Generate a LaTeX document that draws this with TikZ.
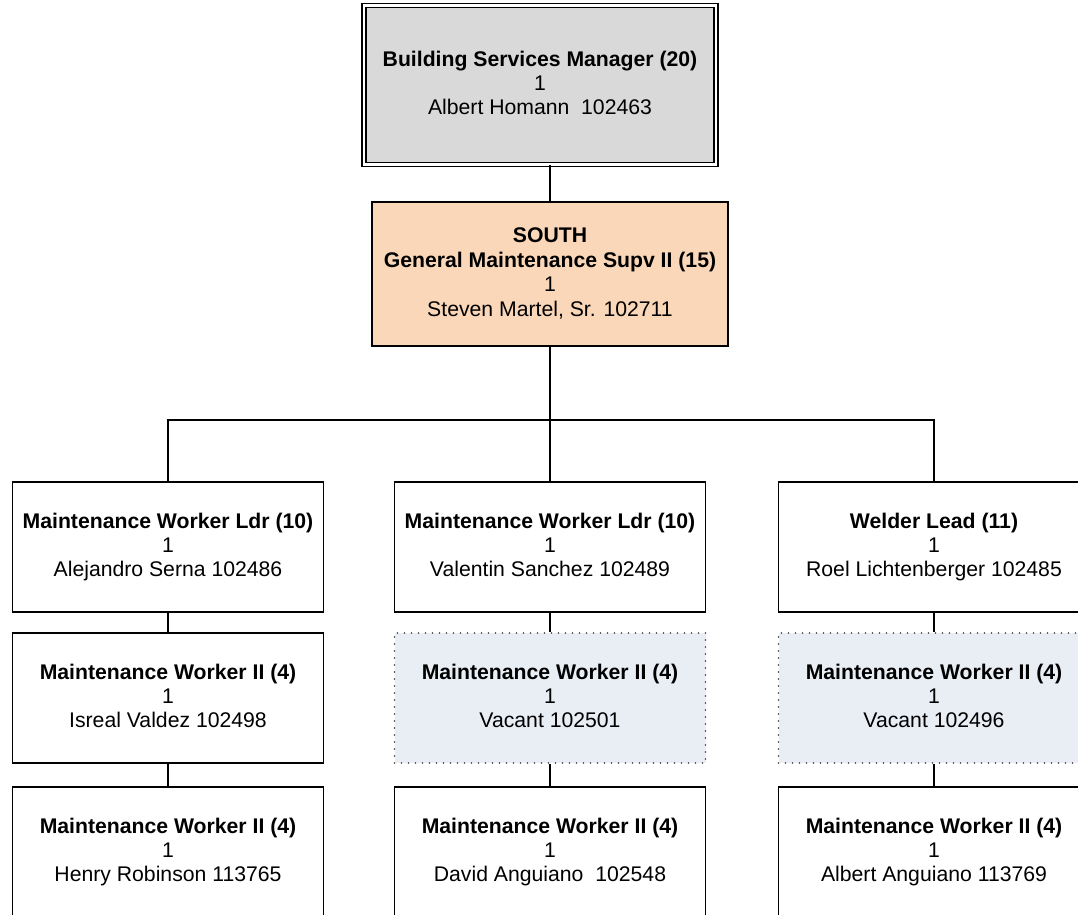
\documentclass[tikz,border=0pt]{standalone}
\usepackage{fontspec}
\setmainfont{Liberation Sans}
\definecolor{mgrgray}{HTML}{D9D9D9}
\definecolor{peach}{HTML}{FAD7B9}
\definecolor{vacfill}{HTML}{E9EDF4}
\newcommand\topph{\vphantom{(}}
\newcommand\botph{\vphantom{j}}
\begin{document}
\begin{tikzpicture}[x=1pt,y=-1pt,
  box/.style={draw=black, line width=1.6pt, fill=white, minimum width=311pt, minimum height=130pt,
    inner sep=0pt, align=center, font=\fontsize{21.2pt}{24.4pt}\selectfont},
  vacbox/.style={box, draw=black!75, fill=vacfill, line width=1.9pt, line cap=round, dash pattern=on 0pt off 7pt},
  link/.style={draw=black, line width=1.4pt}]
\useasboundingbox (0,0) rectangle (1078,914);
\clip (0,0) rectangle (1078,914);
% top
\node[box, fill=mgrgray, double=white, double distance=2.6pt, line width=1.4pt,
  minimum width=352pt, minimum height=159pt] (mgr) at (540,85)
  {\topph\textbf{Building Services Manager (20)}\\1\\Albert Homann\ \ 102463\botph};
\node[box, fill=peach, minimum width=356pt, minimum height=144pt] (supv) at (550,274)
  {\topph\textbf{SOUTH}\\\textbf{General Maintenance Supv II (15)}\\1\\Steven Martel, Sr. 102711\botph};
% level 3
\node[box] (a1) at (168,547) {\topph\textbf{Maintenance Worker Ldr (10)}\\1\\Alejandro Serna 102486\botph};
\node[box] (b1) at (550,547) {\topph\textbf{Maintenance Worker Ldr (10)}\\1\\Valentin Sanchez 102489\botph};
\node[box] (c1) at (934,547) {\topph\textbf{Welder Lead (11)}\\1\\Roel Lichtenberger 102485\botph};
% level 4
\node[box] (a2) at (168,698) {\topph\textbf{Maintenance Worker II (4)}\\1\\Isreal Valdez 102498\botph};
\node[vacbox] (b2) at (550,698) {\topph\textbf{Maintenance Worker II (4)}\\1\\Vacant 102501\botph};
\node[vacbox] (c2) at (934,698) {\topph\textbf{Maintenance Worker II (4)}\\1\\Vacant 102496\botph};
% level 5
\node[box] (a3) at (168,852) {\topph\textbf{Maintenance Worker II (4)}\\1\\Henry Robinson 113765\botph};
\node[box] (b3) at (550,852) {\topph\textbf{Maintenance Worker II (4)}\\1\\David Anguiano\ \ 102548\botph};
\node[box] (c3) at (934,852) {\topph\textbf{Maintenance Worker II (4)}\\1\\Albert Anguiano 113769\botph};
% connectors
\coordinate (bus) at (550,420);
\path[link] (mgr.south -| supv.north) -- (supv.north);
\path[link] (supv.south) -- (bus);
\path[link] (bus) -| (a1.north);
\path[link] (bus) -| (c1.north);
\path[link] (bus) -- (b1.north);
\path[link] (a1.south) -- (a2.north);
\path[link] (a2.south) -- (a3.north);
\path[link] (b1.south) -- (b2.north);
\path[link] (b2.south) -- (b3.north);
\path[link] (c1.south) -- (c2.north);
\path[link] (c2.south) -- (c3.north);
\end{tikzpicture}
\end{document}
